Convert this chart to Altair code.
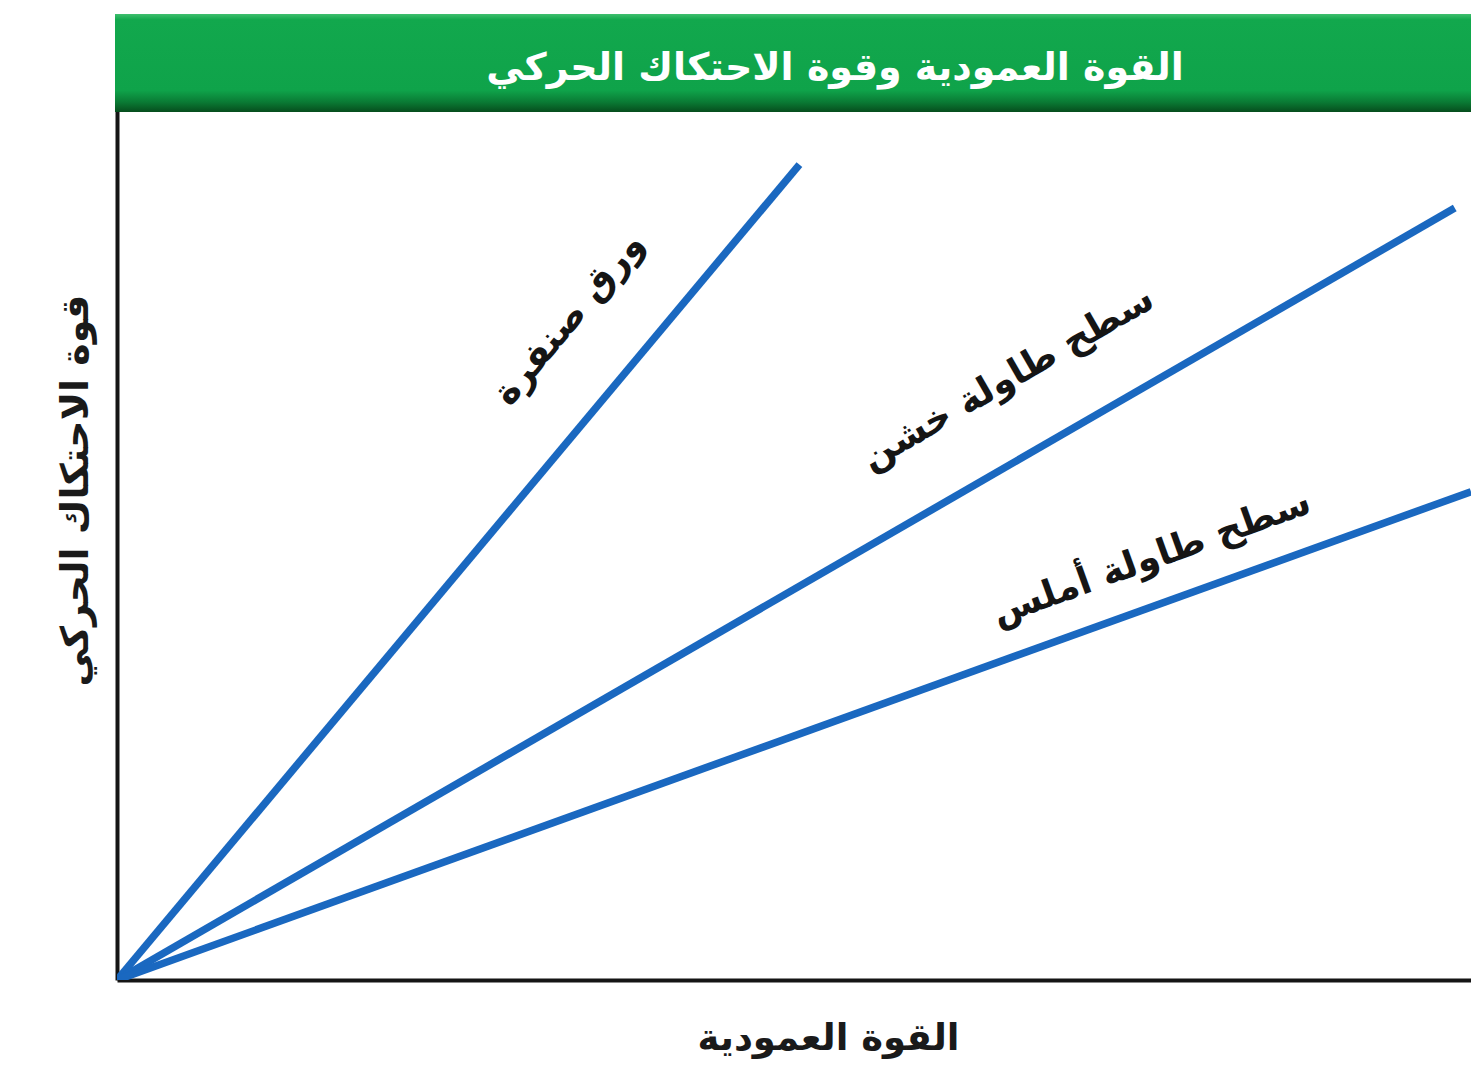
import math
import altair as alt
import pandas as pd

# ---- text ----
title_text = "القوة العمودية وقوة الاحتكاك الحركي"
x_title = "القوة العمودية"
y_title = "قوة الاحتكاك الحركي"

# ---- data (normal force vs kinetic friction, arbitrary units) ----
surfaces = ["ورق صنفرة", "سطح طاولة خشن", "سطح طاولة أملس"]
normal_start = [0, 0, 0]
friction_start = [0, 0, 0]
normal_end = [5.04, 9.88, 10.0]
friction_end = [8.45, 8.0, 5.06]

# label anchor points (data units)
label_normal = [3.34, 6.58, 7.64]
label_friction = [6.85, 6.23, 4.37]

X_MAX = 10
Y_MAX = 10
W = 1354
H = 965
FONT = "DejaVu Sans"
BLUE = "#1a68c0"

rows = []
for s, x0, y0, x1, y1 in zip(surfaces, normal_start, friction_start, normal_end, friction_end):
    rows.append({"surface": s, "x": x0, "y": y0, "o": 0})
    rows.append({"surface": s, "x": x1, "y": y1, "o": 1})
lines_df = pd.DataFrame(rows)

lab_rows = []
for s, lx, ly, x1, y1 in zip(surfaces, label_normal, label_friction, normal_end, friction_end):
    ang = -math.degrees(math.atan2(y1 * H / Y_MAX, x1 * W / X_MAX))
    lab_rows.append({"surface": s, "x": lx, "y": ly, "angle": ang % 360})
labels_df = pd.DataFrame(lab_rows)

xscale = alt.Scale(domain=[0, X_MAX], nice=False, zero=True)
yscale = alt.Scale(domain=[0, Y_MAX], nice=False, zero=True)

lines = alt.Chart(lines_df).mark_line(
    strokeWidth=7.5, color=BLUE, strokeCap="butt", clip=True
).encode(
    x=alt.X("x:Q", scale=xscale, axis=alt.Axis(
        title=x_title, domain=True, domainColor="#151515", domainWidth=4,
        ticks=False, labels=False, grid=False,
        titleFont=FONT, titleFontSize=37, titleFontWeight="bold", titleColor="#1a1a1a",
        titlePadding=40, titleX=711, titleAlign="center")),
    y=alt.Y("y:Q", scale=yscale, axis=alt.Axis(
        title=y_title, domain=True, domainColor="#151515", domainWidth=4,
        ticks=False, labels=False, grid=False,
        titleFont=FONT, titleFontSize=38, titleFontWeight="bold", titleColor="#1a1a1a",
        titlePadding=22, titleY=475, titleAlign="center")),
    detail="surface:N",
    order="o:Q",
)

labels = alt.Chart(labels_df).mark_text(
    font=FONT, fontSize=37, fontWeight="bold", color="#151515",
    align="center", baseline="middle"
).encode(
    x=alt.X("x:Q", scale=xscale),
    y=alt.Y("y:Q", scale=yscale),
    text="surface:N",
    angle=alt.Angle("angle:Q", scale=None),
)

banner_df = pd.DataFrame({"t": [title_text]})
banner = alt.Chart(banner_df).mark_rect(
    color=alt.LinearGradient(
        gradient="linear",
        stops=[
            alt.GradientStop(color="#3fbf6e", offset=0),
            alt.GradientStop(color="#12a84d", offset=0.06),
            alt.GradientStop(color="#0fa34a", offset=0.78),
            alt.GradientStop(color="#0a7a34", offset=0.9),
            alt.GradientStop(color="#064d1d", offset=1),
        ],
        x1=0, x2=0, y1=0, y2=1,
    )
).encode(
    x=alt.value(-2), x2=alt.value(W + 20), y=alt.value(-1), y2=alt.value(97)
)

banner_text = alt.Chart(banner_df).mark_text(
    font=FONT, fontSize=38, fontWeight="bold", color="white",
    align="center", baseline="middle"
).encode(
    x=alt.value(718), y=alt.value(54), text="t:N"
)

chart = alt.layer(banner, lines, labels, banner_text).properties(
    width=W, height=H,
    autosize=alt.AutoSizeParams(type="none"),
    padding={"left": 109, "top": 7, "right": 0, "bottom": 90},
    background="white",
).configure_view(stroke=None)

chart.save("out.html", embed_options={"renderer": "svg", "actions": False})
